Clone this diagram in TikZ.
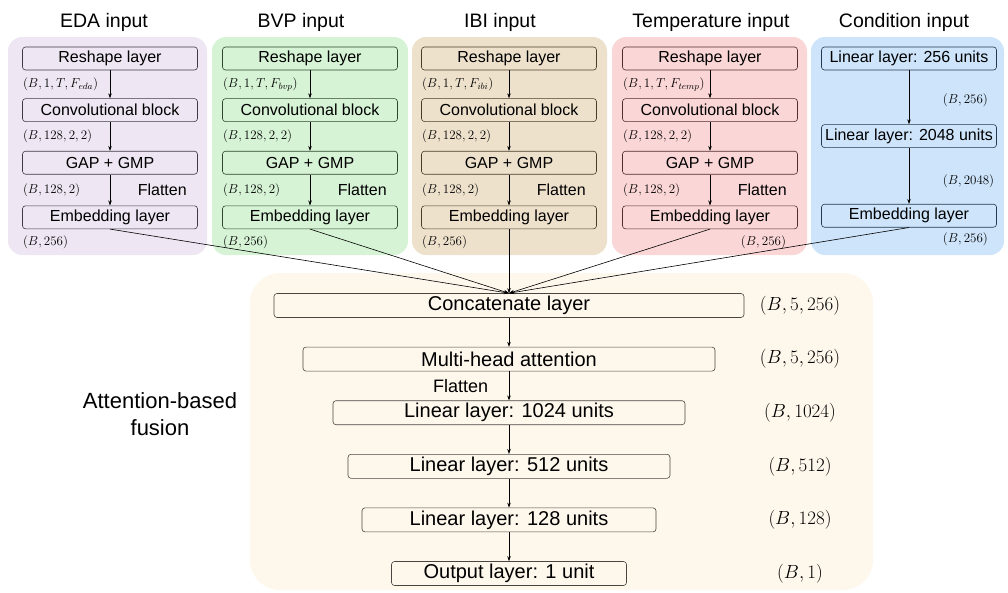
\RequirePackage{fix-cm}
\documentclass[tikz,border=0pt]{standalone}
\usepackage{fontspec}
\setmainfont{Liberation Sans}
\usetikzlibrary{positioning,calc,arrows.meta}

\definecolor{edabg}{HTML}{EEE6F2}
\definecolor{bvpbg}{HTML}{D6F3D5}
\definecolor{ibibg}{HTML}{EEE1CC}
\definecolor{tempbg}{HTML}{FBD6D6}
\definecolor{condbg}{HTML}{CDE4FA}
\definecolor{fusebg}{HTML}{FEF7EC}
\definecolor{edaline}{HTML}{3E3A44}
\definecolor{bvpline}{HTML}{2F452F}
\definecolor{ibiline}{HTML}{4A3C2C}
\definecolor{templine}{HTML}{532C2C}
\definecolor{condline}{HTML}{26384A}
\definecolor{fuseline}{HTML}{4A4540}

\tikzset{
  layer/.style={draw=#1, rounded corners=3pt, minimum width=175pt, minimum height=23pt,
    inner sep=1pt, font=\fontsize{16}{18}\selectfont},
  big/.style={draw=fuseline, rounded corners=3pt, minimum height=24pt, inner sep=1pt,
    font=\fontsize{20}{22}\selectfont},
  title/.style={font=\fontsize{19.5}{22}\selectfont},
  dim/.style={inner sep=0.5pt, font=\fontsize{13}{15}\selectfont},
  bigdim/.style={inner sep=0.5pt, font=\fontsize{19}{21}\selectfont},
  note/.style={inner sep=0.5pt, font=\fontsize{16}{18}\selectfont},
}

\begin{document}
\begin{tikzpicture}[x=1pt, y=-1pt, ->, >={Stealth[length=5pt,width=3.5pt]}, line width=0.6pt, color=black]
	\useasboundingbox (0,0) rectangle (1008,592);

	% panels
	\fill[edabg, rounded corners=14pt] (8,37) rectangle (207,255);
	\fill[bvpbg, rounded corners=14pt] (212,37) rectangle (408,255);
	\fill[ibibg, rounded corners=14pt] (412,37) rectangle (607,255);
	\fill[tempbg, rounded corners=14pt] (612,37) rectangle (807,255);
	\fill[condbg, rounded corners=14pt] (811,37) rectangle (1004,255);
	\fill[fusebg, rounded corners=30pt] (250,273) rectangle (873,590);

	\node[title] (t1) at (104,22) {EDA input};
	\node[title] (t2) at (301,22) {BVP input};
	\node[title] (t3) at (500,22) {IBI input};
	\node[title] (t4) at (711,22) {Temperature input};
	\node[title] (t5) at (904,22) {Condition input};

	% EDA
	\node[layer=edaline] (r1) at (110,58.5) {Reshape layer};
	\node[layer=edaline, below=28pt of r1] (c1) {Convolutional block};
	\node[layer=edaline, below=29pt of c1] (g1) {GAP + GMP};
	\node[layer=edaline, below=31pt of g1] (e1) {Embedding layer};
	\node[dim, anchor=west] (d11) at ($(r1.south west)!0.5!(c1.north west)$) {$(B,1,T,F_{eda})$};
	\node[dim, anchor=west] (d12) at ($(c1.south west)!0.5!(g1.north west)$) {$(B,128,2,2)$};
	\node[dim, anchor=west] (d13) at ($(g1.south west)!0.5!(e1.north west)$) {$(B,128,2)$};
	\node[dim, anchor=west] (d14) at ($(e1.south west)+(0,13)$) {$(B,256)$};
	\node[note, anchor=west] (f1) at ($(g1.south)!0.5!(e1.north)+(27,0)$) {Flatten};
	\draw (r1) -> (c1);
	\draw (c1) -> (g1);
	\draw (g1) -> (e1);

	% BVP
	\node[layer=bvpline] (r2) at (310,58.5) {Reshape layer};
	\node[layer=bvpline, below=28pt of r2] (c2) {Convolutional block};
	\node[layer=bvpline, below=29pt of c2] (g2) {GAP + GMP};
	\node[layer=bvpline, below=31pt of g2] (e2) {Embedding layer};
	\node[dim, anchor=west] (d21) at ($(r2.south west)!0.5!(c2.north west)$) {$(B,1,T,F_{bvp})$};
	\node[dim, anchor=west] (d22) at ($(c2.south west)!0.5!(g2.north west)$) {$(B,128,2,2)$};
	\node[dim, anchor=west] (d23) at ($(g2.south west)!0.5!(e2.north west)$) {$(B,128,2)$};
	\node[dim, anchor=west] (d24) at ($(e2.south west)+(0,13)$) {$(B,256)$};
	\node[note, anchor=west] (f2) at ($(g2.south)!0.5!(e2.north)+(27,0)$) {Flatten};
	\draw (r2) -> (c2);
	\draw (c2) -> (g2);
	\draw (g2) -> (e2);

	% IBI
	\node[layer=ibiline] (r3) at (509,58.5) {Reshape layer};
	\node[layer=ibiline, below=28pt of r3] (c3) {Convolutional block};
	\node[layer=ibiline, below=29pt of c3] (g3) {GAP + GMP};
	\node[layer=ibiline, below=31pt of g3] (e3) {Embedding layer};
	\node[dim, anchor=west] (d31) at ($(r3.south west)!0.5!(c3.north west)$) {$(B,1,T,F_{ibi})$};
	\node[dim, anchor=west] (d32) at ($(c3.south west)!0.5!(g3.north west)$) {$(B,128,2,2)$};
	\node[dim, anchor=west] (d33) at ($(g3.south west)!0.5!(e3.north west)$) {$(B,128,2)$};
	\node[dim, anchor=west] (d34) at ($(e3.south west)+(0,13)$) {$(B,256)$};
	\node[note, anchor=west] (f3) at ($(g3.south)!0.5!(e3.north)+(27,0)$) {Flatten};
	\draw (r3) -> (c3);
	\draw (c3) -> (g3);
	\draw (g3) -> (e3);

	% Temperature
	\node[layer=templine] (r4) at (710,58.5) {Reshape layer};
	\node[layer=templine, below=28pt of r4] (c4) {Convolutional block};
	\node[layer=templine, below=29pt of c4] (g4) {GAP + GMP};
	\node[layer=templine, below=31pt of g4] (e4) {Embedding layer};
	\node[dim, anchor=west] (d41) at ($(r4.south west)!0.5!(c4.north west)$) {$(B,1,T,F_{temp})$};
	\node[dim, anchor=west] (d42) at ($(c4.south west)!0.5!(g4.north west)$) {$(B,128,2,2)$};
	\node[dim, anchor=west] (d43) at ($(g4.south west)!0.5!(e4.north west)$) {$(B,128,2)$};
	\node[dim, anchor=east] (d44) at ($(e4.south east)+(-11,13)$) {$(B,256)$};
	\node[note, anchor=west] (f4) at ($(g4.south)!0.5!(e4.north)+(27,0)$) {Flatten};
	\draw (r4) -> (c4);
	\draw (c4) -> (g4);
	\draw (g4) -> (e4);

	% Condition
	\node[layer=condline] (a5) at (909,58.5) {Linear layer: 256 units};
	\node[layer=condline, below=54pt of a5] (b5) {Linear layer: 2048 units};
	\node[layer=condline, below=56pt of b5] (e5) {Embedding layer};
	\node[dim, anchor=west] (d51) at ($(a5.south)!0.5!(b5.north)+(33,3)$) {$(B,256)$};
	\node[dim, anchor=west] (d52) at ($(b5.south)!0.5!(e5.north)+(33,5)$) {$(B,2048)$};
	\node[dim, anchor=west] (d53) at ($(e5.south)+(33,12)$) {$(B,256)$};
	\draw (a5) -> (b5);
	\draw (b5) -> (e5);

	% fusion
	\node[big, minimum width=470pt] (cat) at (509,305.5) {Concatenate layer};
	\node[big, minimum width=412pt, below=29pt of cat] (mha) {Multi-head attention};
	\node[big, minimum width=352pt, below=29pt of mha] (l1) {Linear layer: 1024 units};
	\node[big, minimum width=322pt, below=29pt of l1] (l2) {Linear layer: 512 units};
	\node[big, minimum width=294pt, below=29pt of l2] (l3) {Linear layer: 128 units};
	\node[big, minimum width=235pt, below=29pt of l3] (out) {Output layer: 1 unit};
	\node[note, font=\fontsize{18}{20}\selectfont, anchor=east] (f6) at ($(mha.south)!0.5!(l1.north)+(-20,0)$) {Flatten};
	\node[align=center, font=\fontsize{22}{27}\selectfont] (fus) at (160,414) {Attention-based\\fusion};

	\node[bigdim] (s1) at ($(cat)+(291,0)$) {$(B,5,256)$};
	\node[bigdim] (s2) at ($(mha)+(291,0)$) {$(B,5,256)$};
	\node[bigdim] (s3) at ($(l1)+(291,0)$) {$(B,1024)$};
	\node[bigdim] (s4) at ($(l2)+(291,0)$) {$(B,512)$};
	\node[bigdim] (s5) at ($(l3)+(291,0)$) {$(B,128)$};
	\node[bigdim] (s6) at ($(out)+(291,0)$) {$(B,1)$};

	\draw (e1.south) -> (cat.north);
	\draw (e2.south) -> (cat.north);
	\draw (e3.south) -> (cat.north);
	\draw (e4.south) -> (cat.north);
	\draw (e5.south) -> (cat.north);
	\draw (cat) -> (mha);
	\draw (mha) -> (l1);
	\draw (l1) -> (l2);
	\draw (l2) -> (l3);
	\draw (l3) -> (out);
\end{tikzpicture}
\end{document}
